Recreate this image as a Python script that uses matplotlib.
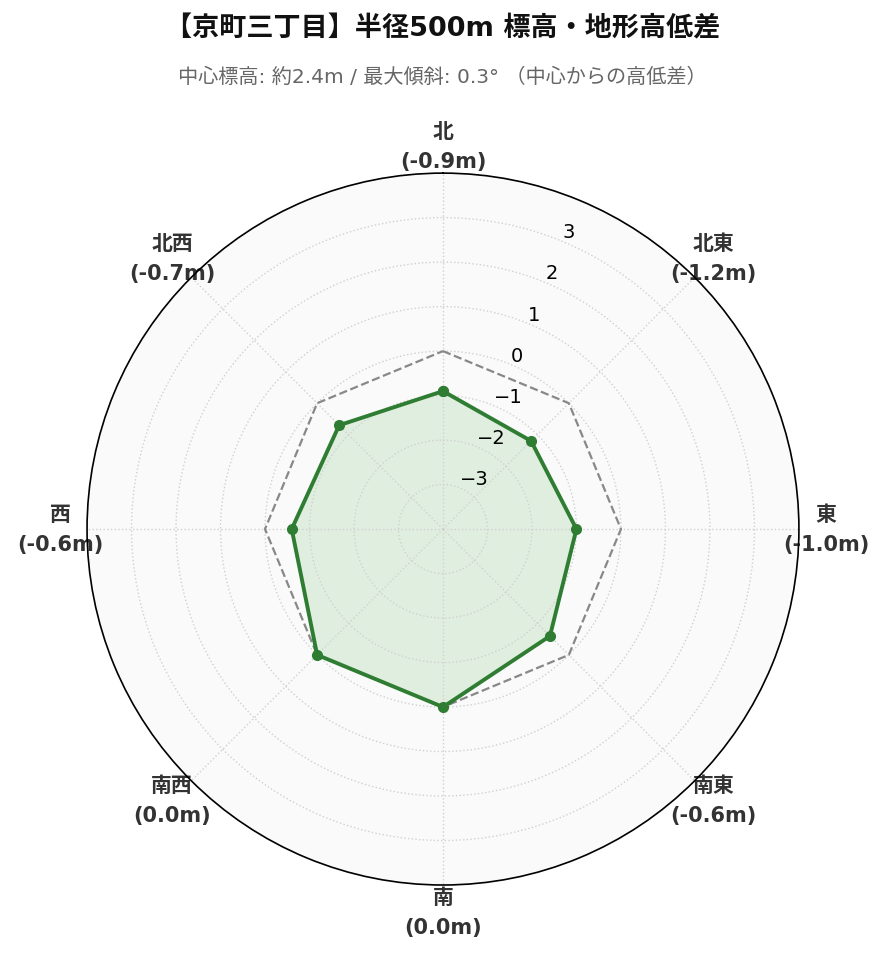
import numpy as np
import matplotlib
matplotlib.use("Agg")
import matplotlib.pyplot as plt

plt.rcParams['font.family'] = ['DejaVu Sans', 'Noto Sans CJK JP']

# 8方位の高低差 (中心からの差, m)
directions = ['北', '北東', '東', '南東', '南', '南西', '西', '北西']
diffs = [-0.9, -1.2, -1.0, -0.6, 0.0, 0.0, -0.6, -0.7]
base = [0.0] * 8
r_ticks = [-3, -2, -1, 0, 1, 2, 3]

title = '【京町三丁目】半径500m 標高・地形高低差'
subtitle = '中心標高: 約2.4m / 最大傾斜: 0.3° （中心からの高低差）'

angles = np.linspace(0, 2 * np.pi, len(directions), endpoint=False)
ang_c = np.append(angles, angles[0])
diff_c = np.append(diffs, diffs[0])
base_c = np.append(base, base[0])

fig = plt.figure(figsize=(8.85, 9.62), dpi=100)
ax = fig.add_axes([0.0983, 0.079, 0.8045, 0.740], projection='polar')
ax.set_theta_zero_location('N')
ax.set_theta_direction(-1)
ax.set_facecolor('#fafafa')

ax.fill(ang_c, diff_c, color='#4caf50', alpha=0.15, zorder=1)
ax.plot(ang_c, base_c, color='#888888', lw=1.6, ls='--', zorder=3)
ax.plot(ang_c, diff_c, color='#2e7d32', lw=2.8, marker='o', ms=7, zorder=4)

ax.set_ylim(-4, 4)
ax.set_yticks(r_ticks)
ax.set_rlabel_position(22.5)
ax.tick_params(axis='y', labelsize=14, colors='black')

labels = [f'{d}\n({v:.1f}m)' for d, v in zip(directions, diffs)]
ax.set_xticks(angles)
ax.set_xticklabels(labels, fontsize=15, fontweight='bold', color='#333333', linespacing=1.65)
ax.tick_params(axis='x', pad=9)

ax.grid(True, ls=':', color='#d0d0d0', lw=1)
ax.spines['polar'].set_color('black')
ax.spines['polar'].set_linewidth(1.2)

fig.text(0.5, 0.969, title, ha='center', va='center', fontsize=19.5, fontweight='bold', color='#111111')
fig.text(0.5, 0.920, subtitle, ha='center', va='center', fontsize=14.5, color='#666666')

fig.savefig('out.png', dpi=100)
